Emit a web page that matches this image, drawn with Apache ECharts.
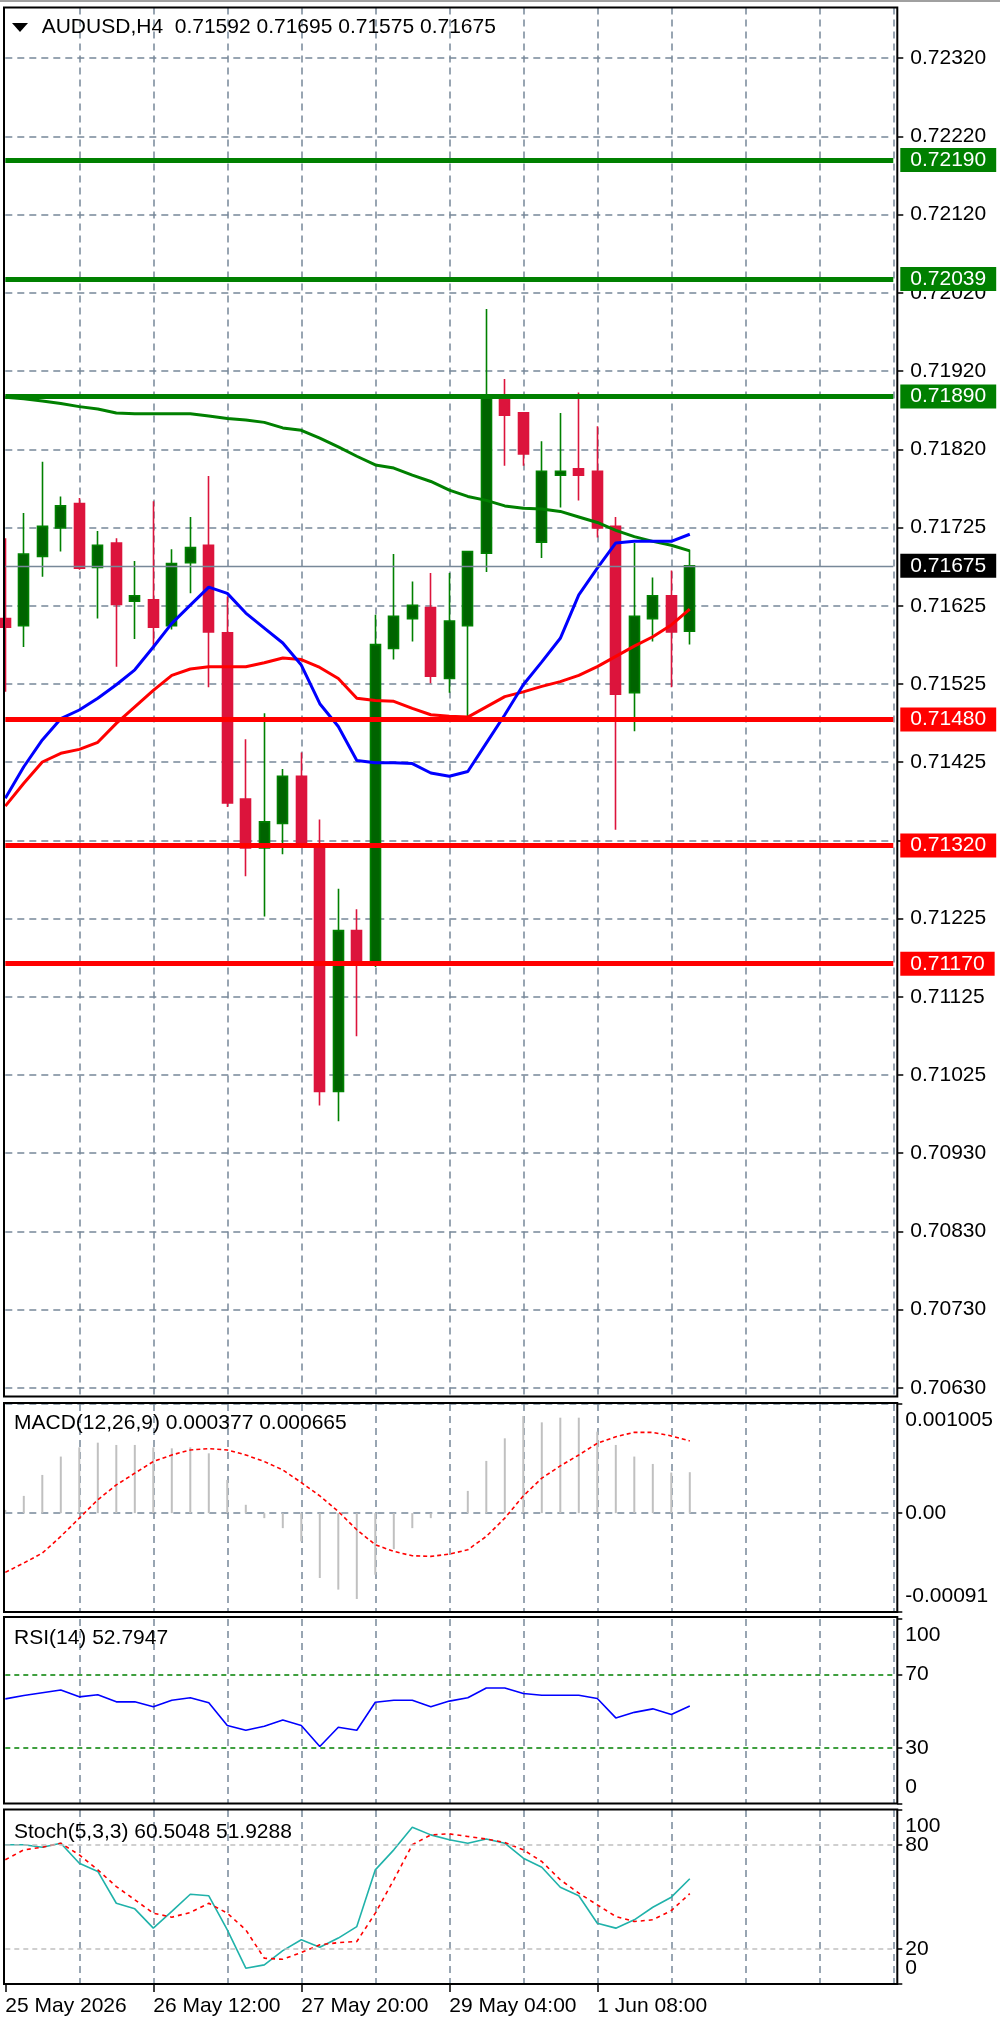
<!DOCTYPE html>
<html>
<head>
<meta charset="utf-8">
<script src="https://cdn.jsdelivr.net/npm/echarts@6/dist/echarts.min.js"></script>
<style>
  html, body { margin: 0; padding: 0; background: #fff; }
  #chart { width: 1000px; height: 2018px; }
</style>
</head>
<body>
<div id="chart"></div>
<script>
var FONT = "'Liberation Sans', Arial, sans-serif";

// 49 bar slots on the time axis, the last 11 are empty space
var slots = [];
for (var s = 0; s < 49; s++) slots.push(String(s));
var xTickIndex = [0, 8, 16, 24, 32];
var xTickLabels = ['25 May 2026', '26 May 12:00', '27 May 20:00', '29 May 04:00', '1 Jun 08:00'];

// AUDUSD H4 candles: open, close, low, high
var candles = [
  [0.71608, 0.71597, 0.71515, 0.71710],
  [0.71599, 0.71690, 0.71572, 0.71742],
  [0.71687, 0.71725, 0.71661, 0.71807],
  [0.71723, 0.71751, 0.71693, 0.71763],
  [0.71754, 0.71672, 0.71670, 0.71761],
  [0.71673, 0.71701, 0.71608, 0.71719],
  [0.71704, 0.71626, 0.71547, 0.71710],
  [0.71630, 0.71637, 0.71582, 0.71681],
  [0.71632, 0.71597, 0.71572, 0.71757],
  [0.71599, 0.71678, 0.71594, 0.71696],
  [0.71679, 0.71698, 0.71640, 0.71737],
  [0.71701, 0.71591, 0.71521, 0.71789],
  [0.71590, 0.71374, 0.71369, 0.71636],
  [0.71379, 0.71317, 0.71281, 0.71455],
  [0.71317, 0.71350, 0.71230, 0.71488],
  [0.71348, 0.71408, 0.71309, 0.71417],
  [0.71408, 0.71319, 0.71317, 0.71438],
  [0.71317, 0.71008, 0.70990, 0.71353],
  [0.71008, 0.71212, 0.70970, 0.71265],
  [0.71212, 0.71172, 0.71078, 0.71239],
  [0.71170, 0.71575, 0.71166, 0.71613],
  [0.71570, 0.71611, 0.71556, 0.71690],
  [0.71608, 0.71625, 0.71579, 0.71655],
  [0.71622, 0.71535, 0.71526, 0.71666],
  [0.71532, 0.71605, 0.71514, 0.71666],
  [0.71599, 0.71693, 0.71484, 0.71693],
  [0.71691, 0.71890, 0.71667, 0.72001],
  [0.71892, 0.71866, 0.71802, 0.71912],
  [0.71869, 0.71817, 0.71802, 0.71870],
  [0.71705, 0.71795, 0.71685, 0.71833],
  [0.71790, 0.71795, 0.71749, 0.71869],
  [0.71798, 0.71790, 0.71758, 0.71895],
  [0.71795, 0.71723, 0.71711, 0.71852],
  [0.71725, 0.71512, 0.71340, 0.71737],
  [0.71514, 0.71611, 0.71465, 0.71704],
  [0.71608, 0.71637, 0.71579, 0.71660],
  [0.71637, 0.71591, 0.71521, 0.71669],
  [0.71592, 0.71675, 0.71575, 0.71695]
];

var maFast = [0.71380, 0.71420, 0.71454, 0.71481, 0.71492, 0.71507, 0.71524, 0.71543, 0.71572, 0.71602,
  0.71625, 0.71648, 0.71640, 0.71615, 0.71596, 0.71577, 0.71549, 0.71500, 0.71471, 0.71428,
  0.71425, 0.71425, 0.71424, 0.71412, 0.71408, 0.71414, 0.71450, 0.71486, 0.71524, 0.71553,
  0.71583, 0.71638, 0.71672, 0.71704, 0.71706, 0.71706, 0.71706, 0.71715];
var maMid = [0.71370, 0.71399, 0.71426, 0.71437, 0.71442, 0.71451, 0.71475, 0.71496, 0.71517, 0.71536,
  0.71544, 0.71547, 0.71547, 0.71547, 0.71552, 0.71558, 0.71556, 0.71546, 0.71532, 0.71507,
  0.71504, 0.71503, 0.71494, 0.71486, 0.71484, 0.71483, 0.71496, 0.71509, 0.71515, 0.71522,
  0.71528, 0.71536, 0.71547, 0.71560, 0.71573, 0.71585, 0.71600, 0.71620];
var maSlow = [0.71889, 0.71887, 0.71884, 0.71881, 0.71877, 0.71874, 0.71869, 0.71868, 0.71868, 0.71868,
  0.71868, 0.71865, 0.71862, 0.71860, 0.71857, 0.71850, 0.71847, 0.71837, 0.71826, 0.71814,
  0.71803, 0.71799, 0.71790, 0.71782, 0.71771, 0.71763, 0.71758, 0.71751, 0.71748, 0.71747,
  0.71744, 0.71737, 0.71730, 0.71720, 0.71712, 0.71706, 0.71701, 0.71694];

var resistance = [0.72190, 0.72039, 0.71890];
var support = [0.71480, 0.71320, 0.71170];

// price grid lines and their labels (the one under the 0.71320 tag is not shown)
var priceGrid = [0.723191, 0.722198, 0.721206, 0.720213, 0.719221, 0.718228, 0.717236, 0.716243, 0.715251,
  0.714258, 0.713266, 0.712273, 0.711281, 0.710288, 0.709296, 0.708303, 0.707311, 0.706318];
var priceTickLabels = ['0.72320', '0.72220', '0.72120', '0.72020', '0.71920', '0.71820', '0.71725', '0.71625',
  '0.71525', '0.71425', '', '0.71225', '0.71125', '0.71025', '0.70930', '0.70830', '0.70730', '0.70630'];
var PRICE_MIN = 0.706208, PRICE_MAX = 0.723835;

var macdHist = [0.00003, 0.000159, 0.000352, 0.000521, 0.000606, 0.000649, 0.000628, 0.000628, 0.000606, 0.000597,
  0.000606, 0.000551, 0.000306, 0.000077, -0.000046, -0.000138, -0.00026, -0.000597, -0.000704, -0.00079,
  -0.000567, -0.000331, -0.000138, -0.000046, 0.00001, 0.000205, 0.000481, 0.000689, 0.000894, 0.000836,
  0.000879, 0.000879, 0.00075, 0.000628, 0.000521, 0.000453, 0.000374, 0.000377];
var macdSignal = [-0.000545, -0.000459, -0.000368, -0.000214, -0.000046, 0.000123, 0.00026, 0.000368, 0.000475, 0.000536,
  0.000582, 0.000594, 0.000582, 0.000536, 0.000475, 0.000398, 0.000282, 0.000159, 0.000015, -0.000153,
  -0.000291, -0.000352, -0.000392, -0.000398, -0.000377, -0.000337, -0.000214, -0.000046, 0.000159, 0.000322,
  0.000435, 0.000536, 0.000643, 0.000704, 0.000744, 0.000744, 0.000711, 0.000665];
var macdTicks = [0.001005, 0, -0.00091];
var macdTickLabels = ['0.001005', '0.00', '-0.00091'];

var rsi = [56.7, 58.5, 60.0, 61.5, 57.8, 58.9, 55.1, 55.1, 52.4, 56.0, 57.3, 54.6, 42.3, 39.7, 41.9, 45.2, 42.3, 30.9, 41.3,
  39.7, 54.9, 56.0, 56.0, 52.4, 55.5, 57.3, 62.6, 62.6, 59.6, 58.7, 58.7, 58.7, 56.9, 46.4, 49.4, 51.3, 48.2, 52.7947];
var rsiLevels = [70, 30];
var rsiTicks = [100, 70, 30, 0];

var stochMain = [80.0, 80.0, 78.6, 80.9, 69.4, 64.7, 46.4, 43.2, 32.1, 41.7, 51.6, 50.7, 31.1, 9.1, 11.0, 19.2, 25.4, 21.1,
  26.4, 33.0, 65.6, 77.1, 90.1, 85.7, 82.9, 80.9, 83.3, 80.9, 72.3, 67.1, 55.6, 50.7, 34.9, 32.1, 36.9, 44.1, 49.9, 60.5048];
var stochSignal = [71.4, 77.1, 78.6, 80.9, 74.2, 65.6, 56.0, 48.4, 40.7, 38.4, 41.1, 46.4, 40.7, 31.1, 14.8, 14.2, 18.1, 22.5,
  23.8, 24.4, 40.7, 59.9, 80.0, 85.7, 86.3, 84.8, 83.3, 81.3, 77.1, 70.4, 59.9, 52.2, 45.5, 38.8, 35.9, 36.9, 42.2, 51.9288];
var stochLevels = [80, 20];
var stochRangeTicks = [100, 0];

// --- layout ---
var GRID_LEFT = 5.3, GRID_W = 888, FRAME_L = 4, FRAME_R = 897.3;
var panels = [
  { top: 7.5, h: 1389, frameTop: 7.5, frameBottom: 1396.5 },
  { top: 1404, h: 208, frameTop: 1403, frameBottom: 1612 },
  { top: 1619, h: 184.5, frameTop: 1617, frameBottom: 1803.5 },
  { top: 1810, h: 174, frameTop: 1809.5, frameBottom: 1984 }
];
var gridColor = '#778899';
var last = candles[candles.length - 1];

function pick(values, labels, v) {
  var best = 0;
  for (var i = 1; i < values.length; i++) {
    if (Math.abs(values[i] - v) < Math.abs(values[best] - v)) best = i;
  }
  return labels[best];
}
// MT4 puts the top and bottom labels of a sub-window just inside the frame
function insetAnchors(ticks, min, max, h) {
  var d = 16 * (max - min) / h;
  return ticks.map(function(t) { return t >= max ? t - d : (t <= min ? t + d : t); });
}

function xAxisFor(g, withLabels) {
  var isTick = function(i) { return xTickIndex.indexOf(i) >= 0; };
  return {
    type: 'category', gridIndex: g, data: slots, boundaryGap: false,
    axisLine: { show: false },
    axisTick: { show: withLabels, interval: isTick, length: 8, lineStyle: { color: '#000', width: 1.5 } },
    axisLabel: {
      show: withLabels, interval: isTick, align: 'left', margin: 12,
      formatter: function(v, i) { return xTickLabels[xTickIndex.indexOf(Number(v))] || ''; },
      fontSize: 21, fontFamily: FONT, color: '#000'
    },
    splitLine: { show: true, interval: function(i) { return i > 0 && i % 4 === 0; }, lineStyle: { color: gridColor, width: 1.5, type: [7, 5] } }
  };
}

function subYAxis(g, min, max, ticks, labels, h, showSplit) {
  var anchors = insetAnchors(ticks, min, max, h);
  return {
    type: 'value', gridIndex: g, position: 'right', offset: FRAME_R - GRID_LEFT - GRID_W,
    min: min, max: max,
    axisLine: { show: false },
    axisTick: { show: true, customValues: ticks, length: 5, lineStyle: { color: '#000', width: 1.5 } },
    axisLabel: {
      customValues: anchors, margin: 8, showMinLabel: true, showMaxLabel: true, hideOverlap: false,
      formatter: function(v) { return pick(anchors, labels, v); },
      fontSize: 21, fontFamily: FONT, color: '#000'
    },
    splitLine: { show: showSplit, lineStyle: { color: gridColor, width: 1.5, type: [7, 5] } }
  };
}

function levelLine(value, color, width) {
  return {
    yAxis: value,
    lineStyle: { color: color, width: width, type: 'solid' },
    label: {
      show: true, position: 'end', distance: 7,
      formatter: value.toFixed(5),
      color: '#fff', backgroundColor: color,
      padding: [2, 10, 1, 10], fontSize: 21, lineHeight: 21, fontFamily: FONT
    }
  };
}

var levelData = [];
resistance.forEach(function(v) { levelData.push(levelLine(v, '#008000', 5)); });
support.forEach(function(v) { levelData.push(levelLine(v, '#ff0000', 5)); });
levelData.push(levelLine(last[1], '#000000', 1.3));
levelData[levelData.length - 1].lineStyle.color = gridColor;

var emptySlots = slots.map(function() { return null; });

var titleStyle = { fontSize: 21, fontWeight: 'normal', fontFamily: FONT, color: '#000' };

var chart = echarts.init(document.getElementById('chart'), null, { renderer: 'canvas' });
chart.setOption({
  animation: false,
  backgroundColor: '#fff',
  title: [
    { text: 'AUDUSD,H4  ' + [last[0], last[3], last[2], last[1]].map(function(v) { return v.toFixed(5); }).join(' '),
      left: 41.7, top: 16.5, padding: 0, textStyle: titleStyle },
    { text: 'MACD(12,26,9) ' + macdHist[macdHist.length - 1].toFixed(6) + ' ' + macdSignal[macdSignal.length - 1].toFixed(6),
      left: 14, top: 1412.5, padding: 0, textStyle: titleStyle },
    { text: 'RSI(14) ' + rsi[rsi.length - 1].toFixed(4), left: 14, top: 1627.5, padding: 0, textStyle: titleStyle },
    { text: 'Stoch(5,3,3) ' + stochMain[stochMain.length - 1].toFixed(4) + ' ' + stochSignal[stochSignal.length - 1].toFixed(4),
      left: 14, top: 1821.5, padding: 0, textStyle: titleStyle }
  ],
  grid: panels.map(function(p) {
    return { left: GRID_LEFT, width: GRID_W, top: p.top, height: p.h, containLabel: false };
  }),
  xAxis: [xAxisFor(0, false), xAxisFor(1, false), xAxisFor(2, false), xAxisFor(3, true)],
  yAxis: [
    {
      type: 'value', gridIndex: 0, position: 'right', offset: FRAME_R - GRID_LEFT - GRID_W,
      min: PRICE_MIN, max: PRICE_MAX,
      axisLine: { show: false },
      axisTick: { show: true, customValues: priceGrid, length: 6, lineStyle: { color: '#000', width: 1.5 } },
      axisLabel: {
        customValues: priceGrid, margin: 13, showMinLabel: true, showMaxLabel: true, hideOverlap: false,
        formatter: function(v) { return pick(priceGrid, priceTickLabels, v); },
        fontSize: 21, fontFamily: FONT, color: '#000'
      },
      splitLine: { show: true, lineStyle: { color: gridColor, width: 1.5, type: [7, 5] } }
    },
    subYAxis(1, -0.00091, 0.001005, macdTicks, macdTickLabels, panels[1].h, true),
    subYAxis(2, 0, 100, rsiTicks, rsiTicks.map(String), panels[2].h, false),
    subYAxis(3, 0, 100, stochRangeTicks, stochRangeTicks.map(String), panels[3].h, false),
    // the 80 / 20 labels sit on a twin axis so they are not dropped as overlapping
    subYAxis(3, 0, 100, stochLevels, stochLevels.map(String), panels[3].h, false)
  ],
  graphic: [
    { type: 'rect', shape: { x: 0, y: 0, width: 1000, height: 2 }, style: { fill: '#a0a0a0' }, silent: true },
    { type: 'polygon', shape: { points: [[12, 23], [28, 23], [20, 32]] }, style: { fill: '#000' }, silent: true }
  ].concat(panels.map(function(p) {
    return {
      type: 'rect', z: 100, silent: true,
      shape: { x: FRAME_L, y: p.frameTop, width: FRAME_R - FRAME_L, height: p.frameBottom - p.frameTop },
      style: { fill: 'transparent', stroke: '#000', lineWidth: 2 }
    };
  })),
  series: [
    {
      name: 'levels', type: 'line', xAxisIndex: 0, yAxisIndex: 0, data: emptySlots, z: 1, silent: true,
      symbol: 'none',
      markLine: { silent: true, precision: 6, symbol: ['none', 'none'], animation: false, data: levelData }
    },
    {
      name: 'AUDUSD', type: 'candlestick', xAxisIndex: 0, yAxisIndex: 0, data: candles, z: 2,
      barWidth: 10.5,
      itemStyle: { color: '#006400', color0: '#dc143c', borderColor: '#008000', borderColor0: '#dc143c', borderWidth: 1.6 }
    },
    { name: 'MA slow', type: 'line', xAxisIndex: 0, yAxisIndex: 0, data: maSlow, z: 3, symbol: 'none', lineStyle: { color: '#008000', width: 3 } },
    { name: 'MA mid', type: 'line', xAxisIndex: 0, yAxisIndex: 0, data: maMid, z: 3, symbol: 'none', lineStyle: { color: '#ff0000', width: 3 } },
    { name: 'MA fast', type: 'line', xAxisIndex: 0, yAxisIndex: 0, data: maFast, z: 3, symbol: 'none', lineStyle: { color: '#0000ff', width: 3 } },

    { name: 'MACD', type: 'bar', xAxisIndex: 1, yAxisIndex: 1, data: macdHist, barWidth: 2, itemStyle: { color: '#c0c0c0' } },
    { name: 'Signal', type: 'line', xAxisIndex: 1, yAxisIndex: 1, data: macdSignal, symbol: 'none', lineStyle: { color: '#ff0000', width: 1.6, type: [4, 3] } },

    {
      name: 'RSI', type: 'line', xAxisIndex: 2, yAxisIndex: 2, data: rsi, symbol: 'none', lineStyle: { color: '#0000ff', width: 1.6 },
      markLine: {
        silent: true, symbol: ['none', 'none'], animation: false, label: { show: false },
        lineStyle: { color: '#008000', width: 1.5, type: [5, 4] },
        data: rsiLevels.map(function(v) { return { yAxis: v }; })
      }
    },

    {
      name: 'Stoch', type: 'line', xAxisIndex: 3, yAxisIndex: 3, data: stochMain, symbol: 'none', lineStyle: { color: '#20b2aa', width: 1.6 },
      markLine: {
        silent: true, symbol: ['none', 'none'], animation: false, label: { show: false },
        lineStyle: { color: '#c0c0c0', width: 1.5, type: [5, 4] },
        data: stochLevels.map(function(v) { return { yAxis: v }; })
      }
    },
    { name: 'Stoch signal', type: 'line', xAxisIndex: 3, yAxisIndex: 3, data: stochSignal, symbol: 'none', lineStyle: { color: '#ff0000', width: 1.6, type: [4, 4] } }
  ]
});
window.addEventListener('resize', function() { chart.resize(); });
</script>
</body>
</html>
